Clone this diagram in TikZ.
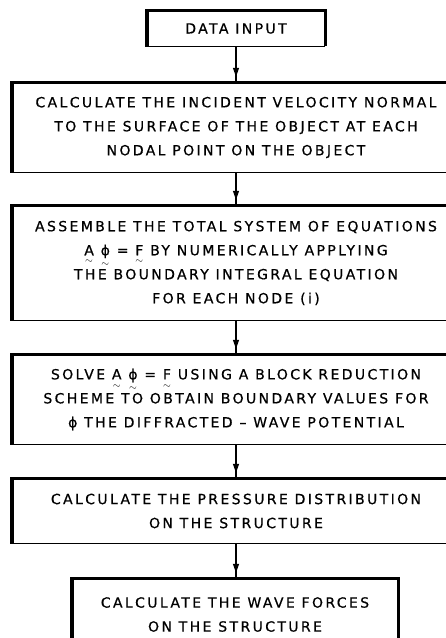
\documentclass[tikz,border=0pt]{standalone}
\usepackage{fontspec}
\usepackage{amsmath}
\setmainfont{DejaVu Sans}
\newfontfamily\lettering[LetterSpace=17,FakeBold=0.6]{DejaVu Sans}
\usetikzlibrary{decorations.markings,arrows.meta}
\newcommand{\tv}[1]{\ensuremath{\underset{\sim}{\text{#1}}}}
\newcommand{\flowframe}[1]{%
  \draw[line width=1.2pt] (#1.south west) -- (#1.south east);
  \draw[line width=3pt] ([xshift=-1.5pt]#1.north west) -- ([xshift=1.3pt]#1.north east);
  \draw[line width=4.5pt] (#1.north west) -- ([yshift=-0.6pt]#1.south west);}
\begin{document}
\begin{tikzpicture}[x=1pt,y=-1pt,
  flowbox/.style={align=center,inner sep=0pt,
    font=\lettering\fontsize{14}{24}\selectfont},
  rightedge/.style={line width=2.6pt},
  flow/.style={line width=1.3pt,
    postaction={decorate},
    decoration={markings,
      mark=at position -6pt with {\arrow{Triangle[length=9pt,width=6pt]}}}}
]
\useasboundingbox (0,0) rectangle (446,638);
\clip (0,0) rectangle (446,638);

\node[flowbox,minimum width=178pt,minimum height=35pt] (b1) at (236,28.5) {DATA INPUT};
\node[flowbox,minimum width=448pt,minimum height=89pt] (b2) at (236,127.5)
  {CALCULATE THE INCIDENT VELOCITY NORMAL\\TO THE SURFACE OF THE OBJECT AT EACH\\NODAL POINT ON THE OBJECT};
\node[flowbox,minimum width=448pt,minimum height=114pt] (b3) at (236,263)
  {ASSEMBLE THE TOTAL SYSTEM OF EQUATIONS\\\tv{A} \tv{ϕ} = \tv{F} BY NUMERICALLY APPLYING\\THE BOUNDARY INTEGRAL EQUATION\\FOR EACH NODE (i)};
\node[flowbox,minimum width=448pt,minimum height=89pt] (b4) at (236,399.5)
  {SOLVE \tv{A} \tv{ϕ} = \tv{F} USING A BLOCK REDUCTION\\SCHEME TO OBTAIN BOUNDARY VALUES FOR\\ϕ THE DIFFRACTED – WAVE POTENTIAL};
\node[flowbox,minimum width=448pt,minimum height=64pt] (b5) at (236,511)
  {CALCULATE THE PRESSURE DISTRIBUTION\\ON THE STRUCTURE};
\node[flowbox,minimum width=326pt,minimum height=71pt] (b6) at (235,614.5)
  {CALCULATE THE WAVE FORCES\\ON THE STRUCTURE};

\flowframe{b1}
\flowframe{b2}
\flowframe{b3}
\flowframe{b4}
\flowframe{b5}
\flowframe{b6}
\draw[rightedge] (b1.north east) -- (b1.south east);
\draw[rightedge] (b6.north east) -- (b6.south east);

\draw[flow] (b1.south) -- (b2.north);
\draw[flow] (b2.south) -- (b3.north);
\draw[flow] (b3.south) -- (b4.north);
\draw[flow] (b4.south) -- (b5.north);
\draw[flow] (b5.south) -- (b5.south |- b6.north);
\end{tikzpicture}
\end{document}
